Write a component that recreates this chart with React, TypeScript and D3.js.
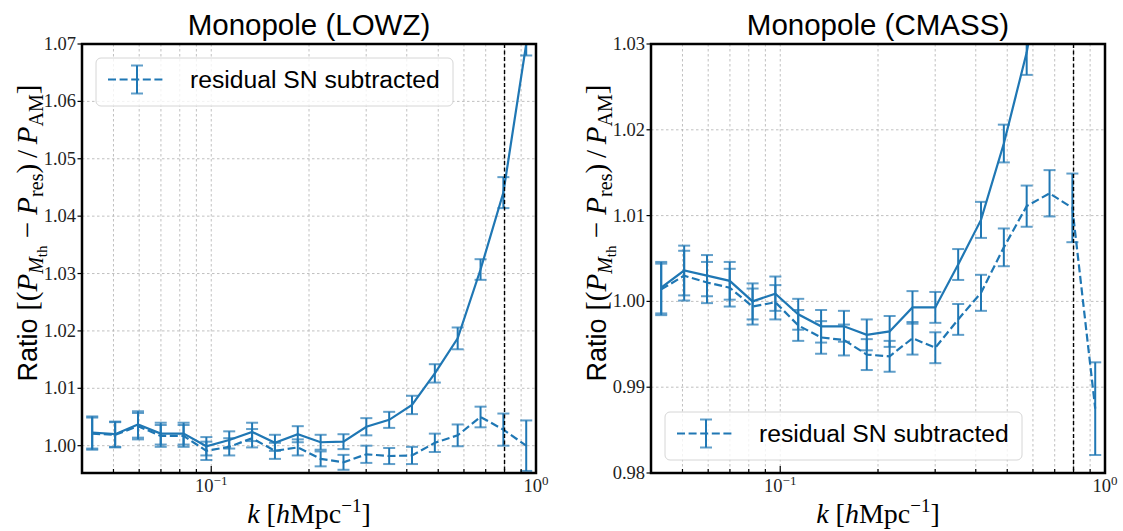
import React from "react";
import * as d3 from "d3";

// ---------------- data ----------------
const kValues = [0.0430, 0.0506, 0.0595, 0.0699, 0.0822, 0.0966, 0.1136, 0.1336, 0.1571, 0.1847, 0.2172, 0.2554, 0.3003, 0.3531, 0.4151, 0.4881, 0.5739, 0.6749, 0.7935, 0.9330];

const lowzMth = [1.0023, 1.0020, 1.0037, 1.0021, 1.0021, 0.9999, 1.0010, 1.0024, 1.0005, 1.0020, 1.0006, 1.0007, 1.0033, 1.0045, 1.0071, 1.0126, 1.0187, 1.0307, 1.0441, 1.0700];
const lowzMthErr = [0.0028, 0.0022, 0.0023, 0.0019, 0.0019, 0.0016, 0.0015, 0.0016, 0.0014, 0.0014, 0.0013, 0.0013, 0.0015, 0.0014, 0.0016, 0.0016, 0.0019, 0.0018, 0.0027, 0.0020];
const lowzRes = [1.0021, 1.0019, 1.0034, 1.0017, 1.0017, 0.9991, 0.9998, 1.0013, 0.9991, 0.9997, 0.9977, 0.9971, 0.9985, 0.9982, 0.9983, 1.0005, 1.0018, 1.0050, 1.0028, 1.0000];
const lowzResErr = [0.0028, 0.0022, 0.0023, 0.0019, 0.0019, 0.0016, 0.0015, 0.0016, 0.0014, 0.0014, 0.0013, 0.0013, 0.0015, 0.0014, 0.0015, 0.0016, 0.0019, 0.0018, 0.0028, 0.0044];

const cmassMth = [1.0016, 1.0036, 1.0030, 1.0024, 1.0000, 1.0009, 0.9985, 0.9971, 0.9971, 0.9961, 0.9965, 0.9993, 0.9993, 1.0043, 1.0095, 1.0184, 1.0290, 1.0440, 1.0620, 1.0900];
const cmassMthErr = [0.0030, 0.0029, 0.0024, 0.0022, 0.0021, 0.0020, 0.0018, 0.0019, 0.0018, 0.0018, 0.0018, 0.0019, 0.0018, 0.0018, 0.0021, 0.0022, 0.0026, 0.0030, 0.0040, 0.0050];
const cmassRes = [1.0014, 1.0030, 1.0022, 1.0016, 0.9994, 0.9999, 0.9972, 0.9958, 0.9955, 0.9938, 0.9936, 0.9957, 0.9946, 0.9979, 1.0010, 1.0063, 1.0111, 1.0126, 1.0109, 0.9875];
const cmassResErr = [0.0030, 0.0029, 0.0024, 0.0022, 0.0021, 0.0020, 0.0018, 0.0019, 0.0018, 0.0018, 0.0018, 0.0019, 0.0018, 0.0018, 0.0021, 0.0022, 0.0024, 0.0027, 0.0040, 0.0054];

const lowzYTicks = [1.00, 1.01, 1.02, 1.03, 1.04, 1.05, 1.06, 1.07];
const cmassYTicks = [0.98, 0.99, 1.00, 1.01, 1.02, 1.03];
const xMajorTicks = [0.1, 1];
const xMajorExp = ["\u22121", "0"];
const xMinorTicks = [0.04, 0.05, 0.06, 0.07, 0.08, 0.09, 0.2, 0.3, 0.4, 0.5, 0.6, 0.7, 0.8, 0.9];
const xDomain = [0.04, 1.0];
const kCut = 0.8;
const legendLabel = "residual SN subtracted";

const BLUE = "#1f77b4";
const SERIF = "'Liberation Serif', 'Times New Roman', serif";
const SANS = "'Liberation Sans', Arial, sans-serif";

type PanelProps = {
  id: string;
  x0: number; x1: number; y0: number; y1: number;
  yDomain: [number, number];
  yTicks: number[];
  title: string;
  mth: number[]; mthErr: number[]; res: number[]; resErr: number[];
  legendX: number; legendY: number;
};

function ErrorBars({ xs, ys, es, x, y }: any) {
  const cap = 6;
  return (
    <g>
      {xs.map((k: number, i: number) => {
        const cx = x(k);
        const top = y(ys[i] + es[i]);
        const bot = y(ys[i] - es[i]);
        return (
          <g key={i}>
            <line x1={cx} x2={cx} y1={top} y2={bot} stroke={BLUE} strokeWidth={2} />
            <line x1={cx - cap} x2={cx + cap} y1={top} y2={top} stroke={BLUE} strokeWidth={2} opacity={0.7} />
            <line x1={cx - cap} x2={cx + cap} y1={bot} y2={bot} stroke={BLUE} strokeWidth={2} opacity={0.7} />
          </g>
        );
      })}
    </g>
  );
}

function Panel(p: PanelProps) {
  const x = d3.scaleLog().domain(xDomain).range([p.x0, p.x1]);
  const y = d3.scaleLinear().domain(p.yDomain).range([p.y1, p.y0]);
  const line = d3.line<number>().x((_, i) => x(kValues[i])).y((v) => y(v));
  const cx = (p.x0 + p.x1) / 2;
  const gridStyle = { stroke: "#b0b0b0", strokeWidth: 0.8, strokeDasharray: "2.5,2.5" };
  const lg = { x: p.legendX, y: p.legendY, w: 357, h: 48 };
  return (
    <g>
      <defs>
        <clipPath id={"clip-" + p.id}>
          <rect x={p.x0} y={p.y0} width={p.x1 - p.x0} height={p.y1 - p.y0} />
        </clipPath>
      </defs>
      {/* grid */}
      <g>
        {[...xMinorTicks, ...xMajorTicks].filter((t) => x(t) > p.x0 + 1 && x(t) < p.x1 - 1).map((t, i) => (
          <line key={"gx" + i} x1={x(t)} x2={x(t)} y1={p.y0} y2={p.y1} style={gridStyle} />
        ))}
        {p.yTicks.filter((t) => y(t) > p.y0 + 1 && y(t) < p.y1 - 1).map((t, i) => (
          <line key={"gy" + i} x1={p.x0} x2={p.x1} y1={y(t)} y2={y(t)} style={gridStyle} />
        ))}
      </g>
      {/* data */}
      <g clipPath={`url(#clip-${p.id})`}>
        <path d={line(p.mth) || ""} fill="none" stroke={BLUE} strokeWidth={2.2} />
        <ErrorBars xs={kValues} ys={p.mth} es={p.mthErr} x={x} y={y} />
        <path d={line(p.res) || ""} fill="none" stroke={BLUE} strokeWidth={2.2} strokeDasharray="8,3.6" />
        <ErrorBars xs={kValues} ys={p.res} es={p.resErr} x={x} y={y} />
        <line x1={x(kCut)} x2={x(kCut)} y1={p.y0} y2={p.y1} stroke="#000" strokeWidth={1.4} strokeDasharray="4,2.5" />
      </g>
      {/* legend */}
      <g>
        <rect x={lg.x} y={lg.y} width={lg.w} height={lg.h} rx={5} fill="#fff" fillOpacity={0.8} stroke="#d6d6d6" strokeWidth={1} />
        <line x1={lg.x + 12} x2={lg.x + 69} y1={lg.y + 21.5} y2={lg.y + 21.5} stroke={BLUE} strokeWidth={2.2} strokeDasharray="8,3.6" />
        <line x1={lg.x + 41} x2={lg.x + 41} y1={lg.y + 7.5} y2={lg.y + 35.5} stroke={BLUE} strokeWidth={2} />
        <line x1={lg.x + 35} x2={lg.x + 47} y1={lg.y + 7.5} y2={lg.y + 7.5} stroke={BLUE} strokeWidth={2} opacity={0.7} />
        <line x1={lg.x + 35} x2={lg.x + 47} y1={lg.y + 35.5} y2={lg.y + 35.5} stroke={BLUE} strokeWidth={2} opacity={0.7} />
        <text x={lg.x + 94} y={lg.y + 30} fontFamily={SANS} fontSize={24.7} fill="#000">{legendLabel}</text>
      </g>
      {/* frame */}
      <rect x={p.x0} y={p.y0} width={p.x1 - p.x0} height={p.y1 - p.y0} fill="none" stroke="#000" strokeWidth={2.5} />
      {/* y ticks */}
      {p.yTicks.map((t, i) => (
        <g key={"yt" + i}>
          <line x1={p.x0 - 4.5} x2={p.x0} y1={y(t)} y2={y(t)} stroke="#000" strokeWidth={1.2} />
          <text x={p.x0 - 6} y={y(t) + 6} textAnchor="end" fontFamily={SERIF} fontSize={18.5} fill="#222">{t.toFixed(2)}</text>
        </g>
      ))}
      {/* x ticks */}
      {xMinorTicks.map((t, i) => (
        <line key={"xm" + i} x1={x(t)} x2={x(t)} y1={p.y1} y2={p.y1 - 4} stroke="#000" strokeWidth={1.2} />
      ))}
      {xMajorTicks.map((t, i) => (
        <g key={"xM" + i}>
          <line x1={x(t)} x2={x(t)} y1={p.y1} y2={p.y1 - 7} stroke="#000" strokeWidth={1.2} />
          <text x={x(t)} y={p.y1 + 19} textAnchor="middle" fontFamily={SERIF} fontSize={18.5} fill="#222">
            10<tspan fontSize={13} dy={-7}>{xMajorExp[i]}</tspan>
          </text>
        </g>
      ))}
      {/* title */}
      <text x={cx} y={35} textAnchor="middle" fontFamily={SANS} fontSize={29.5} fill="#000">{p.title}</text>
      {/* x label */}
      <text x={cx} y={523} textAnchor="middle" fontFamily={SERIF} fontSize={28} fill="#000">
        <tspan fontStyle="italic">k</tspan>
        <tspan> [</tspan>
        <tspan fontStyle="italic">h</tspan>
        <tspan>Mpc</tspan>
        <tspan fontSize={19} dy={-11}>{"\u22121"}</tspan>
        <tspan dy={11}>]</tspan>
      </text>
      {/* y label */}
      <text transform={`translate(${p.x0 - 45},${233}) rotate(-90)`} textAnchor="middle" fontFamily={SERIF} fontSize={29} fill="#000">
        <tspan fontFamily={SANS} fontSize={27}>Ratio </tspan>
        <tspan>[(</tspan>
        <tspan fontStyle="italic">P</tspan>
        <tspan fontStyle="italic" fontSize={20} dy={6}>M</tspan>
        <tspan fontSize={15} dy={4}>th</tspan>
        <tspan dy={-10}> {"\u2212"} </tspan>
        <tspan fontStyle="italic">P</tspan>
        <tspan fontSize={20} dy={6}>res</tspan>
        <tspan dy={-6}>){"\u2009"}/{"\u2009"}</tspan>
        <tspan fontStyle="italic">P</tspan>
        <tspan fontSize={20} dy={6}>AM</tspan>
        <tspan dy={-6}>]</tspan>
      </text>
    </g>
  );
}

export default function App() {
  return (
    <svg width={1123} height={531} style={{ position: "absolute", left: 0, top: 0, background: "#fff" }}>
      <rect x={0} y={0} width={1123} height={531} fill="#fff" />
      <Panel id="lowz" x0={82} x1={536} y0={44} y1={473} yDomain={[0.99524, 1.07]} yTicks={lowzYTicks}
        title="Monopole (LOWZ)" mth={lowzMth} mthErr={lowzMthErr} res={lowzRes} resErr={lowzResErr}
        legendX={96} legendY={58} />
      <Panel id="cmass" x0={651} x1={1105} y0={44} y1={473} yDomain={[0.98, 1.03]} yTicks={cmassYTicks}
        title="Monopole (CMASS)" mth={cmassMth} mthErr={cmassMthErr} res={cmassRes} resErr={cmassResErr}
        legendX={665} legendY={412} />
    </svg>
  );
}
